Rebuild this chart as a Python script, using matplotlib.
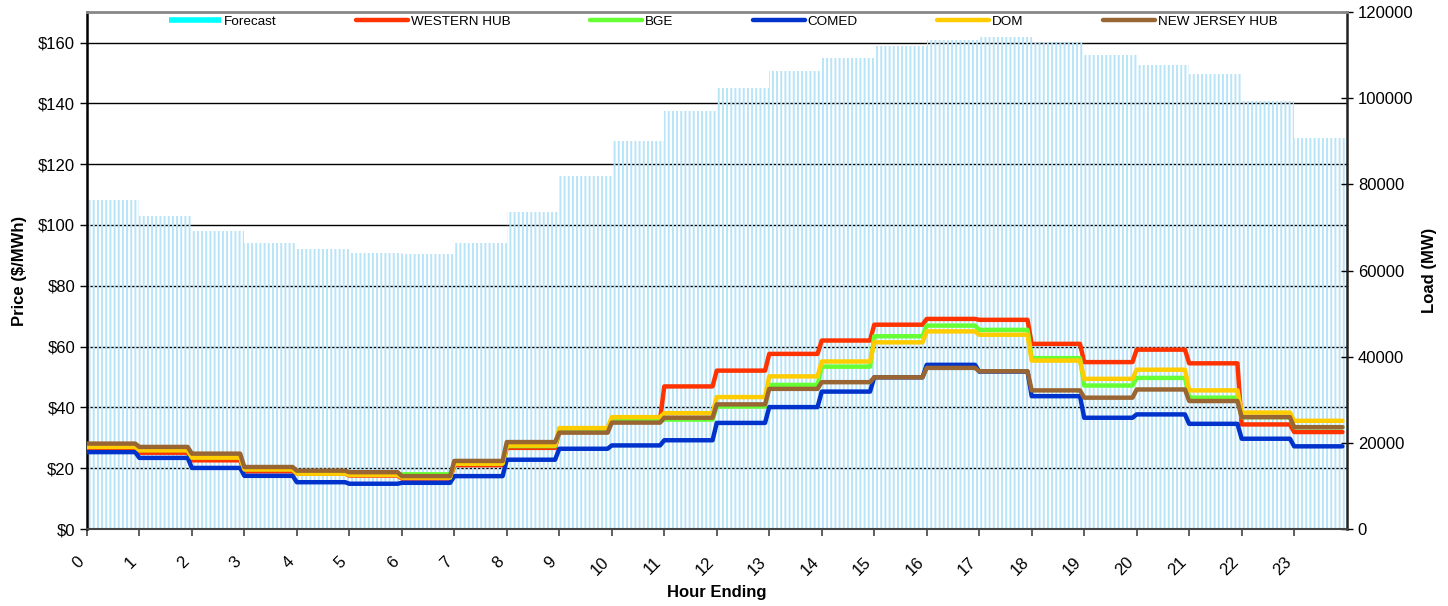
import numpy as np
import matplotlib
matplotlib.use('Agg')
import matplotlib.pyplot as plt
from matplotlib.lines import Line2D

plt.rcParams['font.family'] = ['Liberation Sans', 'DejaVu Sans']
plt.rcParams['hatch.linewidth'] = 1.4

hours = np.arange(24)
hour_labels = [str(h) for h in hours]

forecast = [76400, 72650, 69200, 66400, 65000, 64100, 63800, 66400, 73600, 81900,
            90100, 97000, 102400, 106300, 109300, 112100, 113500, 114200, 113000,
            110000, 107700, 105600, 99300, 90800]

western_hub = [26.4, 25.1, 22.6, 19.0, 18.2, 17.6, 16.6, 21.0, 26.7, 32.0,
               36.0, 46.9, 52.1, 57.6, 62.0, 67.2, 69.1, 68.8, 60.9, 54.9,
               59.0, 54.5, 34.4, 31.9]
bge = [27.3, 26.0, 23.6, 19.7, 18.5, 18.0, 18.0, 21.5, 27.3, 32.5,
       35.5, 36.0, 40.3, 47.4, 53.4, 63.4, 66.9, 65.5, 56.2, 47.2,
       49.7, 43.2, 36.8, 33.5]
comed = [25.3, 23.4, 20.1, 17.5, 15.4, 14.9, 15.2, 17.4, 22.8, 26.4,
         27.5, 29.2, 34.9, 40.1, 45.2, 49.9, 54.0, 51.8, 43.7, 36.6,
         37.7, 34.6, 29.7, 27.2]
dom = [27.0, 25.9, 23.5, 19.6, 18.2, 17.8, 16.9, 21.5, 27.5, 33.2,
       36.8, 38.1, 43.4, 50.2, 55.1, 61.4, 65.0, 63.9, 55.4, 49.4,
       52.4, 45.6, 38.3, 35.6]
nj_hub = [28.1, 27.0, 24.8, 20.4, 19.2, 18.7, 17.4, 22.4, 28.6, 31.7,
          35.0, 36.6, 41.0, 46.1, 48.3, 49.9, 53.0, 51.9, 45.6, 43.2,
          45.9, 42.1, 36.8, 33.5]

series = [
    ('WESTERN HUB', western_hub, '#FF3300'),
    ('BGE', bge, '#66FF33'),
    ('COMED', comed, '#0033CC'),
    ('DOM', dom, '#FFCC00'),
    ('NEW JERSEY HUB', nj_hub, '#996633'),
]

fig = plt.figure(figsize=(14.48, 6.06), dpi=100)
rect = [0.060, 0.127, 0.870, 0.853]

# bottom axes: price scale and grid
ax0 = fig.add_axes(rect)
ax0.set_xlim(0, 24)
ax0.set_ylim(0, 170)
ax0.set_yticks(np.arange(0, 161, 20))
ax0.set_yticklabels(['$%d' % v for v in np.arange(0, 161, 20)])
ax0.grid(axis='y', color='black', linewidth=1.0)
ax0.set_axisbelow(True)
ax0.set_xticks(hours)
ax0.set_xticklabels(hour_labels, rotation=45, ha='right', va='top')
ax0.tick_params(axis='x', length=5, width=1.2, color='#444444', pad=13, labelsize=12)
ax0.tick_params(axis='y', length=5, width=1.0, labelsize=12)
for s in ax0.spines.values():
    s.set_visible(False)
ax0.set_xlabel('Hour Ending', fontsize=12, fontweight='bold', labelpad=5)
ax0.set_ylabel('Price ($/MWh)', fontsize=12, fontweight='bold', labelpad=8)

# load bars
ax2 = ax0.twinx()
ax2.bar(hours, forecast, width=1.0, align='edge', facecolor='none',
        edgecolor='#B8E4F8', linewidth=0, hatch='||||')
ax2.set_ylim(0, 120000)
ax2.set_yticks(np.arange(0, 120001, 20000))
ax2.tick_params(axis='y', direction='inout', length=9, width=1.0, labelsize=12)
ax2.set_ylabel('Load (MW)', fontsize=12, fontweight='bold', labelpad=6)
ax2.spines['top'].set_color('#888888')
ax2.spines['top'].set_linewidth(2)
ax2.spines['left'].set_color('black')
ax2.spines['left'].set_linewidth(1.8)
ax2.spines['right'].set_color('#222222')
ax2.spines['right'].set_linewidth(1.8)
ax2.spines['bottom'].set_color('#444444')
ax2.spines['bottom'].set_linewidth(1.5)

# price lines on top
ax1 = fig.add_axes(rect, sharex=ax0, sharey=ax0)
ax1.axis('off')
ax1.patch.set_visible(False)
xs = np.column_stack([hours, hours + 0.92]).ravel()
for name, vals, col in series:
    ax1.plot(xs, np.repeat(vals, 2), color=col, linewidth=3.2,
             solid_capstyle='round', solid_joinstyle='round', label=name)

ax0.set_zorder(1)
ax2.set_zorder(2)
ax1.set_zorder(3)

handles = [Line2D([], [], color='#00FFFF', linewidth=4, solid_capstyle='butt')]
handles += [Line2D([], [], color=c, linewidth=3.2, solid_capstyle='round') for _, _, c in series]
labels = ['Forecast'] + [n for n, _, _ in series]
ax1.legend(handles, labels, loc='upper left', bbox_to_anchor=(0.065, 0.994),
           ncol=6, frameon=False, fontsize=9.7, handlelength=3.86,
           handletextpad=0.22, columnspacing=5.9, borderpad=0, borderaxespad=0)

fig.savefig('out.png', dpi=100)
